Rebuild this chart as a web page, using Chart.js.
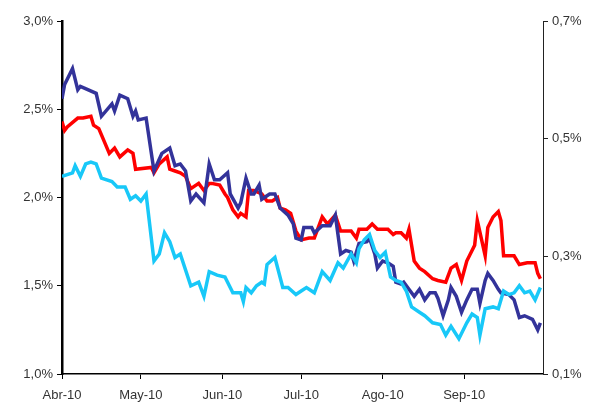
<!DOCTYPE html>
<html lang="es">
<head>
    <meta charset="UTF-8">
    <title>Diferenciales Abr-Sep 2010</title>
    <script src="https://cdn.jsdelivr.net/npm/chart.js"></script>
    <style>
        html, body { margin: 0; padding: 0; background: #fff; }
        #wrap { width: 594px; height: 402px; }
    </style>
</head>
<body>
    <div id="wrap"><canvas id="grafico"></canvas></div>

    <script>
        // eje x: dias desde el 1 de abril de 2010
        const monthLabels = ['Abr-10', 'May-10', 'Jun-10', 'Jul-10', 'Ago-10', 'Sep-10'];
        const monthStarts = [0, 30, 61, 91, 122, 153];

        const leftTicks = [1.0, 1.5, 2.0, 2.5, 3.0];
        const rightTicks = [0.1, 0.3, 0.5, 0.7];

        // serie azul oscuro
        const navyDays = [0, 1, 4, 6, 7, 13, 15, 19, 20, 22, 25, 27, 28, 29, 32, 35, 38, 41, 43, 45, 47, 49, 51, 54, 56, 58, 60, 63, 64, 67, 68, 70, 72, 73, 75, 76, 79, 81, 83, 86, 88, 89, 91, 92, 95, 96, 99, 102, 104, 106, 108, 110, 111, 113, 116, 117, 119, 120, 122, 124, 126, 127, 129, 130, 132, 134, 136, 138, 140, 142, 143, 145, 147, 148, 150, 152, 154, 156, 158, 159, 161, 162, 164, 166, 167, 170, 172, 174, 176, 179, 181, 182];
        const navyValues = [2.56, 2.64, 2.73, 2.61, 2.63, 2.59, 2.46, 2.53, 2.49, 2.58, 2.56, 2.46, 2.49, 2.44, 2.45, 2.15, 2.25, 2.28, 2.18, 2.19, 2.15, 1.98, 2.02, 1.97, 2.19, 2.10, 2.10, 2.14, 2.02, 1.94, 1.97, 2.11, 2.02, 2.02, 2.07, 1.99, 2.02, 2.02, 1.94, 1.90, 1.85, 1.77, 1.76, 1.83, 1.83, 1.80, 1.84, 1.84, 1.90, 1.68, 1.70, 1.69, 1.64, 1.74, 1.75, 1.77, 1.68, 1.60, 1.64, 1.63, 1.61, 1.52, 1.51, 1.52, 1.48, 1.44, 1.48, 1.42, 1.46, 1.46, 1.43, 1.33, 1.42, 1.49, 1.44, 1.35, 1.42, 1.48, 1.48, 1.40, 1.53, 1.57, 1.53, 1.48, 1.46, 1.45, 1.42, 1.32, 1.33, 1.31, 1.25, 1.29];

        // serie roja
        const redDays = [0, 1, 2, 6, 8, 11, 12, 14, 18, 20, 22, 25, 27, 28, 34, 35, 37, 40, 41, 43, 45, 47, 49, 52, 54, 56, 57, 60, 62, 63, 65, 67, 68, 70, 71, 73, 76, 78, 80, 82, 83, 85, 87, 89, 91, 94, 96, 99, 101, 104, 106, 110, 112, 113, 116, 118, 120, 124, 126, 127, 129, 131, 132, 134, 136, 138, 141, 143, 146, 148, 150, 152, 154, 157, 158, 161, 162, 164, 166, 167, 168, 172, 174, 177, 180, 181, 182];
        const redValues = [2.43, 2.38, 2.40, 2.45, 2.45, 2.46, 2.41, 2.39, 2.25, 2.28, 2.23, 2.27, 2.25, 2.16, 2.17, 2.14, 2.19, 2.23, 2.16, 2.15, 2.14, 2.12, 2.05, 2.08, 2.04, 2.08, 2.08, 2.07, 2.02, 2.00, 1.93, 1.89, 1.91, 1.89, 2.04, 2.04, 2.02, 1.98, 1.98, 2.00, 1.94, 1.93, 1.91, 1.81, 1.76, 1.77, 1.77, 1.89, 1.85, 1.90, 1.81, 1.81, 1.77, 1.82, 1.82, 1.85, 1.82, 1.82, 1.79, 1.80, 1.80, 1.77, 1.82, 1.64, 1.60, 1.58, 1.54, 1.53, 1.52, 1.60, 1.62, 1.53, 1.64, 1.73, 1.87, 1.67, 1.83, 1.89, 1.92, 1.87, 1.67, 1.67, 1.62, 1.63, 1.63, 1.57, 1.54];

        // serie azul claro
        const cyanDays = [0, 4, 5, 7, 9, 11, 13, 15, 19, 21, 24, 26, 28, 30, 32, 35, 37, 39, 41, 43, 45, 49, 52, 54, 56, 59, 62, 65, 68, 69, 70, 72, 74, 76, 77, 78, 81, 84, 86, 89, 91, 93, 96, 99, 102, 105, 107, 110, 112, 113, 115, 117, 119, 121, 123, 125, 127, 129, 131, 133, 136, 138, 141, 144, 146, 148, 151, 154, 156, 158, 159, 161, 164, 166, 168, 170, 172, 174, 176, 178, 180, 182];
        const cyanValues = [2.12, 2.14, 2.18, 2.12, 2.19, 2.20, 2.19, 2.11, 2.09, 2.06, 2.06, 1.99, 2.01, 1.98, 2.02, 1.64, 1.68, 1.80, 1.75, 1.66, 1.68, 1.50, 1.52, 1.44, 1.58, 1.56, 1.55, 1.46, 1.46, 1.41, 1.49, 1.46, 1.50, 1.52, 1.51, 1.62, 1.66, 1.49, 1.49, 1.45, 1.47, 1.49, 1.46, 1.58, 1.53, 1.63, 1.60, 1.68, 1.63, 1.71, 1.76, 1.79, 1.70, 1.66, 1.69, 1.55, 1.53, 1.52, 1.47, 1.38, 1.35, 1.33, 1.29, 1.28, 1.22, 1.27, 1.20, 1.29, 1.34, 1.32, 1.22, 1.37, 1.38, 1.37, 1.47, 1.45, 1.46, 1.50, 1.46, 1.47, 1.42, 1.49];

        function toPoints(days, values) {
            return days.map((d, i) => ({ x: d, y: values[i] }));
        }

        function pct(v) {
            return v.toFixed(1).replace('.', ',') + '%';
        }

        const font = { family: 'Liberation Sans, Arial, sans-serif', size: 13 };

        const ctx = document.getElementById('grafico').getContext('2d');
        new Chart(ctx, {
            type: 'line',
            data: {
                datasets: [
                    {
                        label: 'Azul claro',
                        data: toPoints(cyanDays, cyanValues),
                        borderColor: '#18c8f8',
                        borderWidth: 3.5,
                        pointRadius: 0,
                        tension: 0
                    },
                    {
                        label: 'Azul oscuro',
                        data: toPoints(navyDays, navyValues),
                        borderColor: '#33339a',
                        borderWidth: 3.5,
                        pointRadius: 0,
                        tension: 0
                    },
                    {
                        label: 'Rojo',
                        data: toPoints(redDays, redValues),
                        borderColor: '#ff0000',
                        borderWidth: 3.5,
                        pointRadius: 0,
                        tension: 0
                    }
                ]
            },
            options: {
                responsive: true,
                maintainAspectRatio: false,
                animation: false,
                layout: { padding: { top: 21, left: 0, right: 0, bottom: 0 } },
                plugins: {
                    legend: { display: false },
                    tooltip: { enabled: false }
                },
                scales: {
                    x: {
                        type: 'linear',
                        min: 0,
                        max: 183,
                        afterBuildTicks: s => { s.ticks = monthStarts.map(v => ({ value: v })); },
                        afterFit: s => { s.height = 28; },
                        grid: { drawOnChartArea: false, color: '#000', tickLength: 5 },
                        border: { color: '#000', width: 1.5 },
                        ticks: {
                            autoSkip: false,
                            maxRotation: 0,
                            color: '#333',
                            font: font,
                            padding: 9,
                            callback: v => monthLabels[monthStarts.indexOf(v)]
                        }
                    },
                    y: {
                        position: 'left',
                        min: 1,
                        max: 3,
                        afterBuildTicks: s => { s.ticks = leftTicks.map(v => ({ value: v })); },
                        afterFit: s => { s.width = 62; },
                        grid: { drawOnChartArea: false, color: '#000', tickLength: 5 },
                        border: { color: '#000', width: 2.5 },
                        ticks: { color: '#333', font: font, padding: 4, callback: v => pct(v) }
                    },
                    y1: {
                        position: 'right',
                        min: 0.1,
                        max: 0.7,
                        afterBuildTicks: s => { s.ticks = rightTicks.map(v => ({ value: v })); },
                        afterFit: s => { s.width = 51; },
                        grid: { drawOnChartArea: false, color: '#222', tickLength: 5 },
                        border: { color: '#222', width: 1 },
                        ticks: { color: '#333', font: font, padding: 4, callback: v => pct(v) }
                    }
                }
            }
        });
    </script>
</body>
</html>
